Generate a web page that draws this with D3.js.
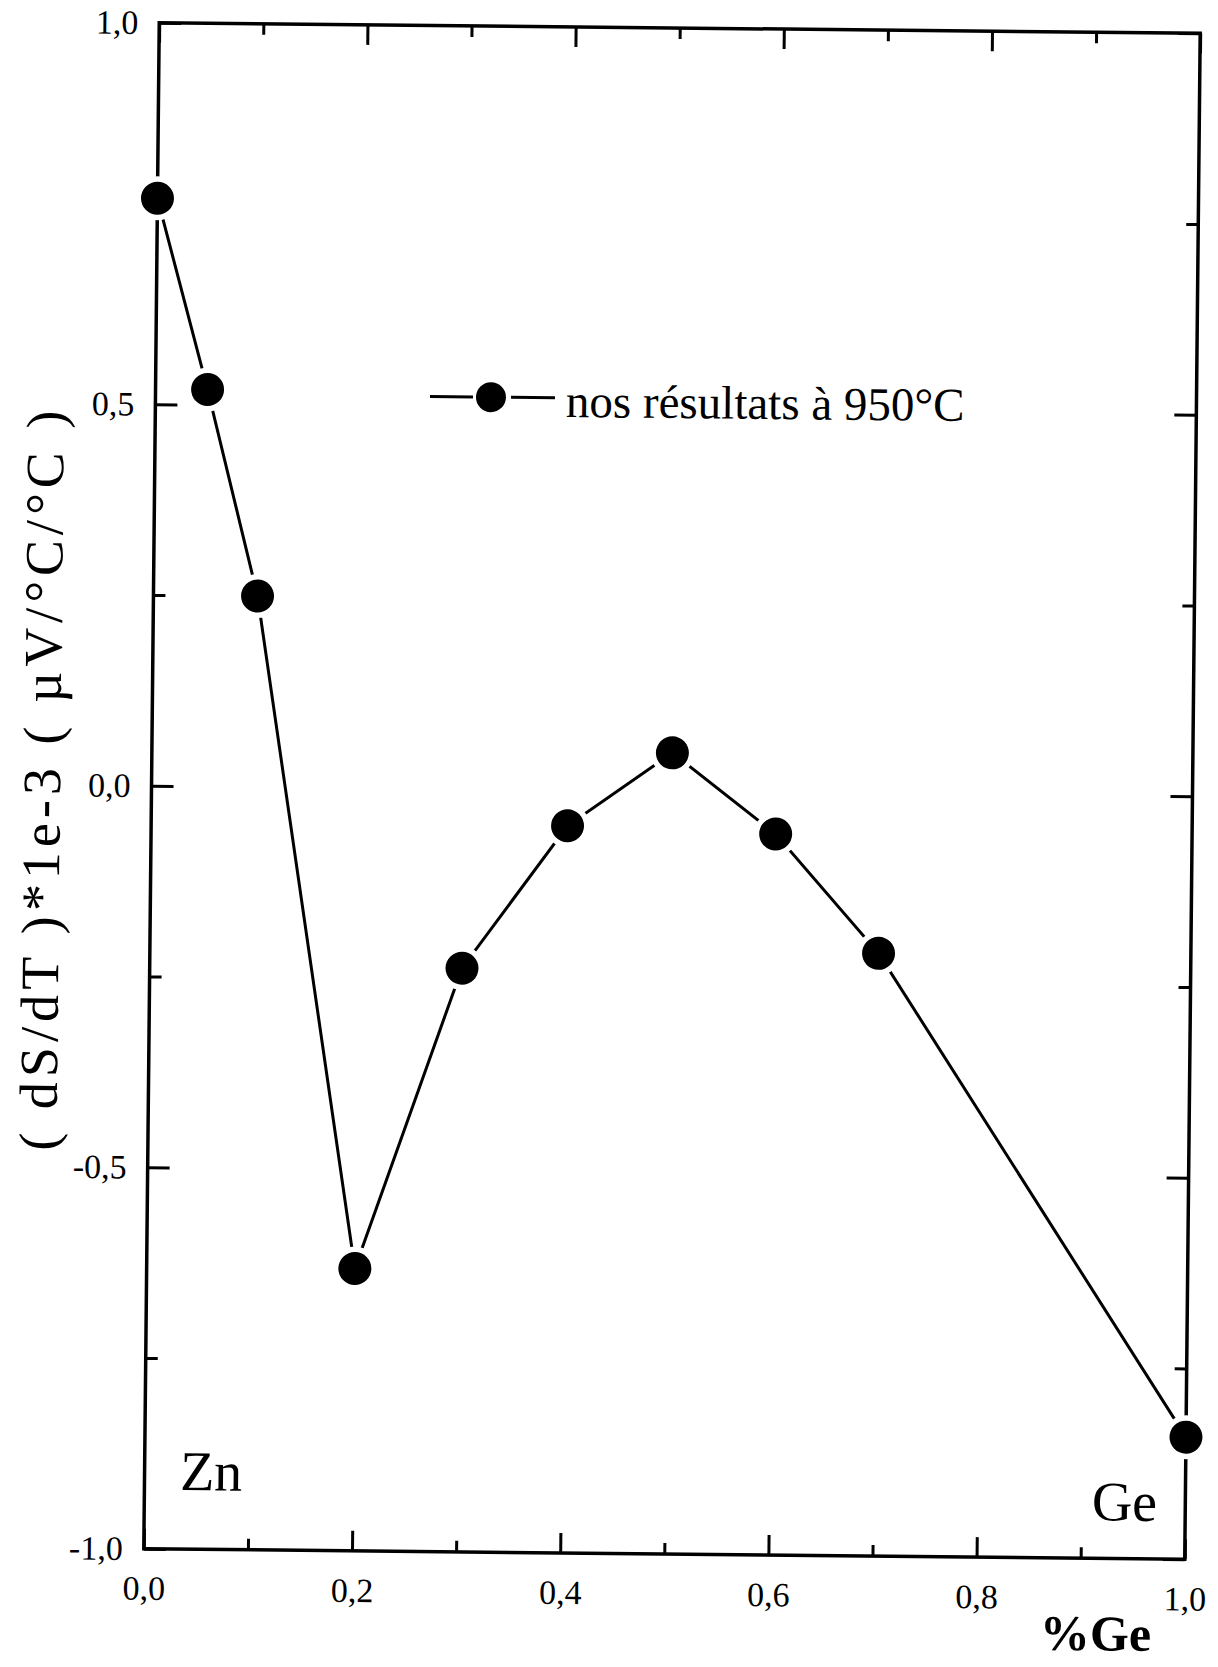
<!DOCTYPE html>
<html>
<head>
<meta charset="utf-8">
<script src="https://cdn.jsdelivr.net/npm/d3@7"></script>
<style>
  body { margin: 0; background: #fff; }
  svg { display: block; }
  text { font-family: "Liberation Serif", "DejaVu Serif", serif; fill: #000; }
</style>
</head>
<body>
<svg width="1218" height="1667"></svg>
<script>
// values
var geFraction = [0, 0.05, 0.1, 0.2, 0.3, 0.4, 0.5, 0.6, 0.7, 1.0];
var dSdT = [0.77, 0.52, 0.25, -0.63, -0.235, -0.047, 0.05, -0.055, -0.21, -0.84];
var xMajor = [0, 0.2, 0.4, 0.6, 0.8, 1.0];
var xMinor = [0.1, 0.3, 0.5, 0.7, 0.9];
var yMajor = [-1, -0.5, 0, 0.5, 1];
var yMinor = [-0.75, -0.25, 0.25, 0.75];
var seriesName = "nos résultats à 950°C";

var svg = d3.select("svg"),
    margin = {top: 28, right: 25.5, bottom: 113, left: 151.5},
    width = +svg.attr("width") - margin.left - margin.right,
    height = +svg.attr("height") - margin.top - margin.bottom;

var fr = d3.formatLocale({decimal: ",", thousands: ".", grouping: [3], currency: ["", ""], minus: "-"});
var fmt = fr.format(".1f");

var x = d3.scaleLinear().domain([0, 1]).range([0, width]),
    y = d3.scaleLinear().domain([-1, 1]).range([height, 0]);

// the scan is tilted a little, so the whole figure is turned to match
var page = svg.append("g")
    .attr("transform", "rotate(0.58, 672, 791)");

var g = page.append("g")
    .attr("transform", "translate(" + margin.left + "," + margin.top + ")");

function styleAxis(sel) {
  sel.select(".domain").remove();
  sel.selectAll(".tick line").attr("stroke", "#000").attr("stroke-width", 3);
  sel.selectAll(".tick text").style("font-size", "34px")
     .style("font-family", "'Liberation Serif', serif").attr("fill", "#000");
}

// bottom
g.append("g").attr("transform", "translate(0," + height + ")")
  .call(d3.axisBottom(x).tickValues(xMajor).tickSize(-20).tickPadding(27).tickFormat(fmt))
  .call(styleAxis);
g.append("g").attr("transform", "translate(0," + height + ")")
  .call(d3.axisBottom(x).tickValues(xMinor).tickSize(-11).tickFormat(""))
  .call(styleAxis);
// top
g.append("g")
  .call(d3.axisTop(x).tickValues(xMajor).tickSize(-20).tickFormat(""))
  .call(styleAxis);
g.append("g")
  .call(d3.axisTop(x).tickValues(xMinor).tickSize(-11).tickFormat(""))
  .call(styleAxis);
// left
g.append("g")
  .call(d3.axisLeft(y).tickValues(yMajor).tickSize(-22).tickPadding(21).tickFormat(fmt))
  .call(styleAxis);
g.append("g")
  .call(d3.axisLeft(y).tickValues(yMinor).tickSize(-12).tickFormat(""))
  .call(styleAxis);
// right
g.append("g").attr("transform", "translate(" + width + ",0)")
  .call(d3.axisRight(y).tickValues(yMajor).tickSize(-22).tickFormat(""))
  .call(styleAxis);
g.append("g").attr("transform", "translate(" + width + ",0)")
  .call(d3.axisRight(y).tickValues(yMinor).tickSize(-12).tickFormat(""))
  .call(styleAxis);

// frame
g.append("rect")
  .attr("width", width).attr("height", height)
  .attr("fill", "none").attr("stroke", "#000").attr("stroke-width", 3.5);

var data = geFraction.map(function(d, i) { return {x: d, y: dSdT[i]}; });

var line = d3.line()
  .x(function(d) { return x(d.x); })
  .y(function(d) { return y(d.y); });

g.append("path")
  .datum(data)
  .attr("d", line)
  .attr("fill", "none")
  .attr("stroke", "#000")
  .attr("stroke-width", 3);

// white halo makes the little gap between line and dot
g.selectAll(".halo")
  .data(data)
  .enter().append("circle")
    .attr("class", "halo")
    .attr("cx", function(d) { return x(d.x); })
    .attr("cy", function(d) { return y(d.y); })
    .attr("r", 22)
    .attr("fill", "#fff");

g.selectAll(".dot")
  .data(data)
  .enter().append("circle")
    .attr("class", "dot")
    .attr("cx", function(d) { return x(d.x); })
    .attr("cy", function(d) { return y(d.y); })
    .attr("r", 16.5)
    .attr("fill", "#000");

// legend
var lg = page.append("g").attr("transform", "translate(487,399)");
lg.append("line").attr("x1", -61).attr("x2", -18).attr("y1", 0).attr("y2", 0)
  .attr("stroke", "#000").attr("stroke-width", 3);
lg.append("line").attr("x1", 20).attr("x2", 64).attr("y1", 0).attr("y2", 0)
  .attr("stroke", "#000").attr("stroke-width", 3);
lg.append("circle").attr("r", 15).attr("fill", "#000");
lg.append("text").attr("x", 75).attr("y", 19)
  .style("font-size", "47px")
  .text(seriesName);

// element labels inside the plot
page.append("text").attr("x", 187).attr("y", 1495).style("font-size", "56px").text("Zn");
page.append("text").attr("x", 1099).attr("y", 1516).style("font-size", "56px").text("Ge");

// axis titles
page.append("text")
  .attr("x", 1104).attr("y", 1646)
  .style("text-anchor", "middle")
  .style("font-size", "50px")
  .style("font-weight", "bold")
  .text("%Ge");

page.append("text")
  .attr("transform", "translate(60,787) rotate(-90)")
  .style("text-anchor", "middle")
  .style("font-size", "54px")
  .attr("textLength", 740)
  .attr("lengthAdjust", "spacing")
  .text("( dS/dT )*1e-3  ( µV/°C/°C )");
</script>
</body>
</html>
